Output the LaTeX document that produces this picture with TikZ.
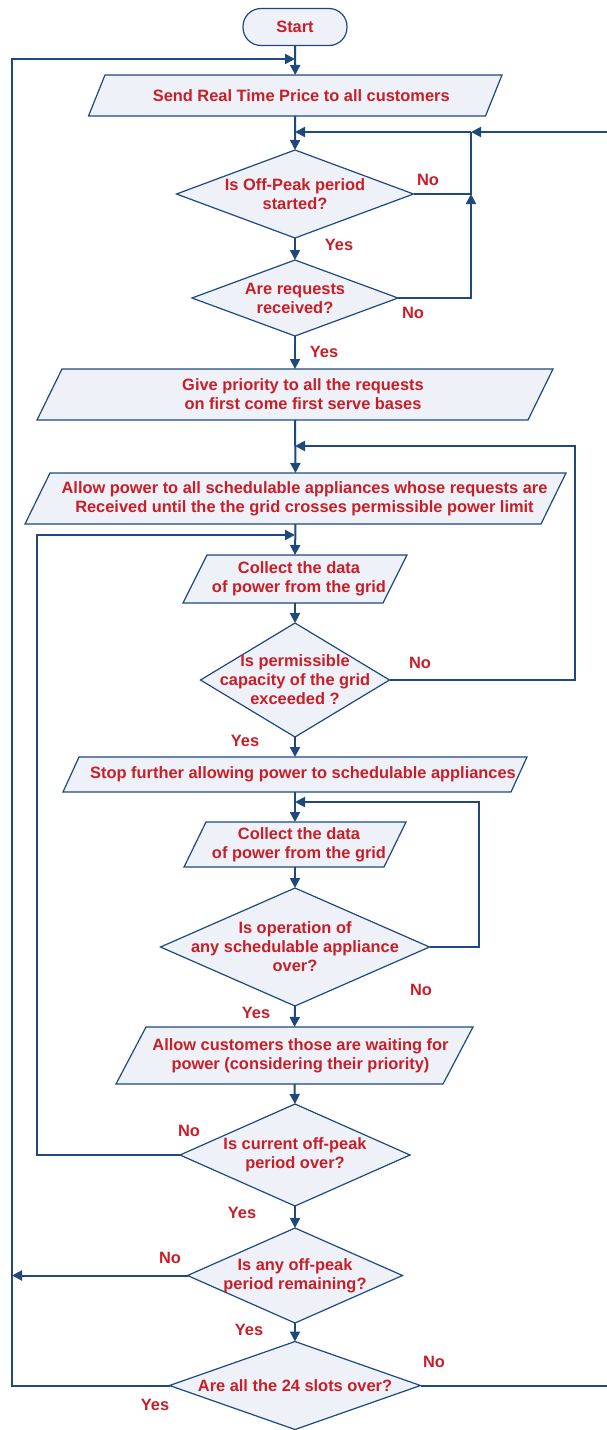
\documentclass[tikz,border=0pt]{standalone}
\usepackage{fontspec}
\setmainfont{Liberation Sans}
\usetikzlibrary{shapes.geometric,arrows.meta}
\definecolor{lc}{RGB}{31,73,125}
\definecolor{fc}{RGB}{238,241,247}
\definecolor{tc}{RGB}{200,30,40}
\pgfdeclarelayer{bg}
\pgfsetlayers{bg,main}
\tikzset{
  base/.style={draw=lc, fill=fc, line width=1.2pt, inner sep=0pt, outer sep=0pt},
  io/.style={inner sep=0pt, outer sep=0pt, rectangle},
  dec/.style={base, diamond},
  txt/.style={text=tc, font=\fontsize{16.4}{19}\selectfont\bfseries, align=center, inner sep=0pt},
  conn/.style={draw=lc, line width=2pt},
  arr/.style={conn, -{Triangle[length=10pt,width=10pt]}},
}
\newcommand\ioshape[2]{%
  \begin{pgfonlayer}{bg}
  \draw[base] ([xshift=#2]#1.north west) -- (#1.north east) -- ([xshift=-#2]#1.south east) -- (#1.south west) -- cycle;
  \end{pgfonlayer}}
\begin{document}
\begin{tikzpicture}[x=1pt,y=-1pt]
\useasboundingbox (0,0) rectangle (606,1430);
% nodes
\node[base, rounded corners=18pt, minimum width=104pt, minimum height=37pt, label={[txt]center:Start}] (start) at (295,27) {};
\node[io, minimum width=413.5pt, minimum height=41pt,
  label={[txt,xshift=6pt]center:Send Real Time Price to all customers}] (p1) at (295.25,95.5) {};
\ioshape{p1}{16.5pt}
\node[dec, minimum width=237pt, minimum height=88pt,
  label={[txt]center:{Is Off-Peak period\\started?}}] (d1) at (295,194) {};
\node[dec, minimum width=206pt, minimum height=76pt,
  label={[txt]center:{Are requests\\received?}}] (d2) at (295,298) {};
\node[io, minimum width=516pt, minimum height=51pt,
  label={[txt,xshift=8pt]center:{Give priority to all the requests\\on first come first serve bases}}] (p2) at (295,394.5) {};
\ioshape{p2}{25pt}
\node[io, minimum width=541pt, minimum height=51pt,
  label={[txt,xshift=9pt]center:{Allow power to all schedulable appliances whose requests are\\Received until the the grid crosses permissible power limit}}] (p3) at (295.5,498.5) {};
\ioshape{p3}{25pt}
\node[io, minimum width=224pt, minimum height=48pt,
  label={[txt,xshift=4pt]center:{Collect the data\\of power from the grid}}] (p4) at (295,579) {};
\ioshape{p4}{24pt}
\node[dec, minimum width=189pt, minimum height=114pt,
  label={[txt]center:{Is permissible\\capacity of the grid\\exceeded ?}}] (d3) at (295,680) {};
\node[io, minimum width=464pt, minimum height=35pt,
  label={[txt,xshift=8pt]center:Stop further allowing power to schedulable appliances}] (p5) at (295,774.5) {};
\ioshape{p5}{16pt}
\node[io, minimum width=222pt, minimum height=45pt,
  label={[txt,xshift=4pt]center:{Collect the data\\of power from the grid}}] (p6) at (295,844.5) {};
\ioshape{p6}{22pt}
\node[dec, minimum width=269pt, minimum height=118pt,
  label={[txt]center:{Is operation of\\any schedulable appliance\\over?}}] (d4) at (295,947) {};
\node[io, minimum width=357pt, minimum height=57pt,
  label={[txt,xshift=6pt]center:{Allow customers those are waiting for\\power (considering their priority)}}] (p7) at (294.5,1055.5) {};
\ioshape{p7}{30pt}
\node[dec, minimum width=230pt, minimum height=102pt,
  label={[txt]center:{Is current off-peak\\period over?}}] (d5) at (295,1155) {};
\node[dec, minimum width=215pt, minimum height=95pt,
  label={[txt]center:{Is any off-peak\\period remaining?}}] (d6) at (295,1275.5) {};
\node[dec, minimum width=251pt, minimum height=88pt,
  label={[txt]center:{Are all the 24 slots over?}}] (d7) at (295,1385.5) {};
% yes / no labels
\node[txt] (n1) at (428,180) {No};
\node[txt] (y1) at (339,245) {Yes};
\node[txt] (n2) at (413,313) {No};
\node[txt] (y2) at (324,352) {Yes};
\node[txt] (n3) at (420,663) {No};
\node[txt] (y3) at (245,741) {Yes};
\node[txt] (n4) at (421,990) {No};
\node[txt] (y4) at (256,1013) {Yes};
\node[txt] (n5) at (189,1131) {No};
\node[txt] (y5) at (242,1213) {Yes};
\node[txt] (n6) at (170,1258) {No};
\node[txt] (y6) at (249,1330) {Yes};
\node[txt] (n7) at (434,1362) {No};
\node[txt] (y7) at (155,1405) {Yes};
% junction coordinates
\coordinate (j0) at (295,59);
\coordinate (j1) at (295,132);
\coordinate (r1) at (471,132);
\coordinate (r1b) at (471,194);
\coordinate (j2) at (295,446);
\coordinate (j3) at (295,535);
\coordinate (j4) at (295,802);
\coordinate (lft) at (12,1275.5);
\coordinate (far) at (614,132);
% main flow
\draw[arr] (start.south) -- (p1.north);
\draw[arr] (p1.south) -- (d1.north);
\draw[arr] (d1.south) -- (d2.north);
\draw[arr] (d2.south) -- (p2.north);
\draw[arr] (p2.south) -- (p3.north);
\draw[arr] (p3.south) -- (p4.north);
\draw[arr] (p4.south) -- (d3.north);
\draw[arr] (d3.south) -- (p5.north);
\draw[arr] (p5.south) -- (p6.north);
\draw[arr] (p6.south) -- (d4.north);
\draw[arr] (d4.south) -- (p7.north);
\draw[arr] (p7.south) -- (d5.north);
\draw[arr] (d5.south) -- (d6.north);
\draw[arr] (d6.south) -- (d7.north);
% loops
\draw[conn] (d1.east) -- (r1b) -- (r1);
\draw[arr] (d2.east) -| (r1b);
\draw[arr] (r1) -- (j1);
\draw[arr] (d7.east) -- (far |- d7.east) -- (far) -- (r1);
\draw[arr] (d7.west) -| (12,59) -- (j0);
\draw[arr] (d3.east) -| (575,446) -- (j2);
\draw[arr] (d5.west) -| (37,535) -- (j3);
\draw[arr] (d4.east) -| (479,802) -- (j4);
\draw[arr] (d6.west) -- (lft);
\end{tikzpicture}
\end{document}
